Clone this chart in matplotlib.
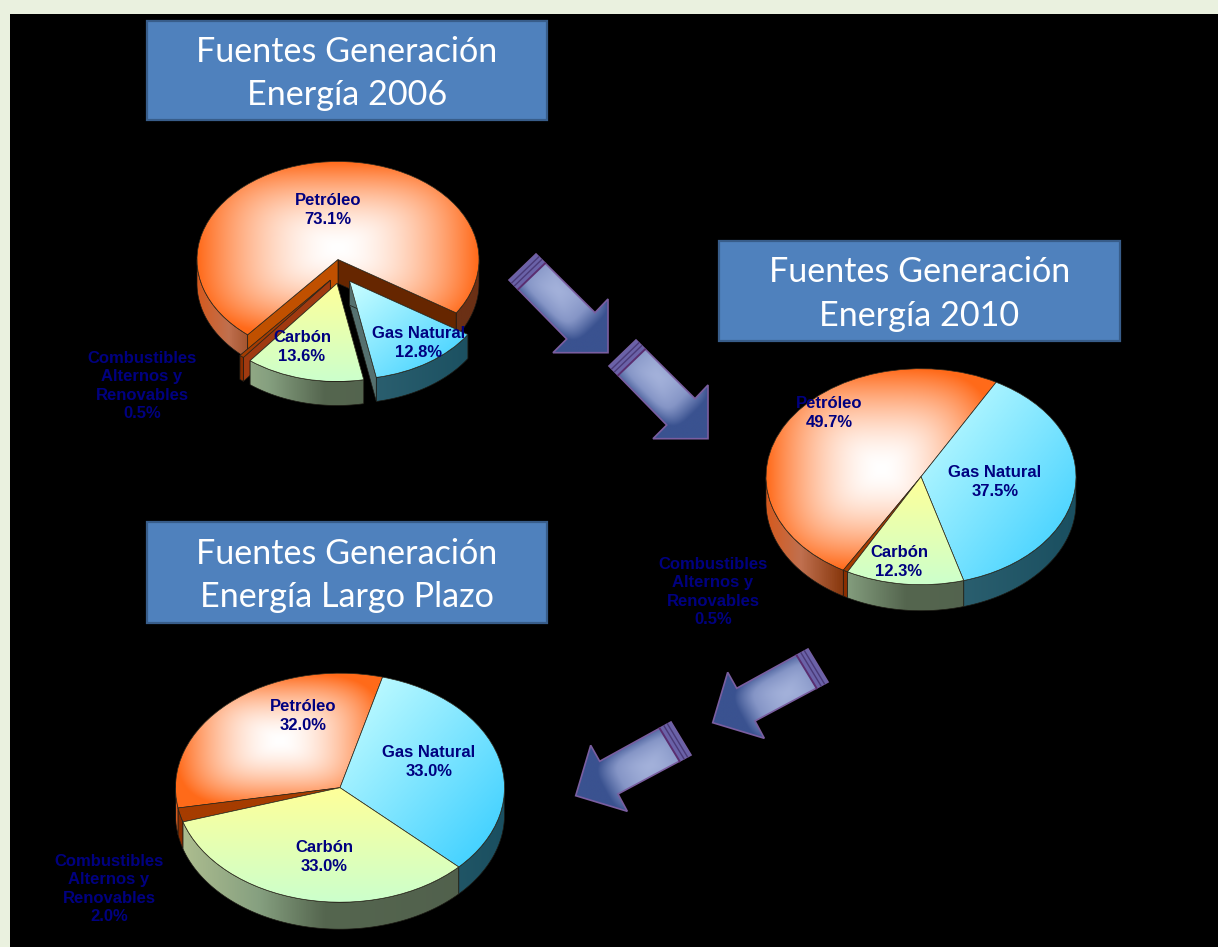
import matplotlib
matplotlib.use('Agg')
import matplotlib.pyplot as plt
from matplotlib.colors import LinearSegmentedColormap, to_rgb
from matplotlib.patches import Polygon, Rectangle
import numpy as np

W, H = 1218, 947

# Values (% of generation)
sources = ['Petróleo', 'Combustibles\nAlternos y\nRenovables', 'Carbón', 'Gas Natural']
shares_2006 = [73.1, 0.5, 13.6, 12.8]
shares_2010 = [49.7, 0.5, 12.3, 37.5]
shares_long = [32.0, 2.0, 33.0, 33.0]

titles = ['Fuentes Generación\nEnergía 2006', 'Fuentes Generación\nEnergía 2010',
          'Fuentes Generación\nEnergía Largo Plazo']

# Pie layout in pixels: centre x, centre y, radius x, radius y, depth, start angle
pie_boxes = [(338, 259.5, 141, 98, 24, -33),
             (921, 476.7, 155, 108, 26, 61),
             (340, 787.7, 164.5, 114.5, 27, 75)]
# Pixel shift of the pulled out slices, only the 2006 pie has them
slice_shifts = [[(0, 0), (-7.7, 20.7), (-1, 24), (11.6, 21.7)], None, None]
label_spots = [[(328, 210), (142, 386), (302, 347), (419, 343)],
               [(829, 413), (713, 592), (899, 562), (995, 482)],
               [(303, 716), (109, 889), (324, 857), (429, 762)]]
title_boxes = [(147, 21, 400, 99), (719, 241, 401, 100), (147, 522, 400, 101)]

ORANGE = '#FF6A1A'
side_stops = {
    0: [(0, '#D65A1E'), (0.11, '#C0704F'), (0.24, '#8A3A10'), (0.75, '#6B3015'), (1, '#6B3015')],
    1: [(0, '#8A2E00'), (1, '#8A2E00')],
    2: [(0, '#B0BF90'), (0.25, '#86A080'), (0.45, '#55664F'), (1, '#505F4C')],
    3: [(0, '#2C6070'), (0.6, '#2C6070'), (1, '#1A4F60')],
}
top_flat = '#A63C00'
walls = {0: ('#662600', '#C05000'), 1: ('#A03A10', '#A03A10'),
         2: ('#55664F', '#55664F'), 3: ('#55706F', '#55706F')}

plt.rcParams['font.family'] = ['Liberation Sans', 'DejaVu Sans']

fig = plt.figure(figsize=(W / 100, H / 100), dpi=100, facecolor='#EAF1DF')
ax = fig.add_axes([0, 0, 1, 1])
ax.set_xlim(0, W)
ax.set_ylim(H, 0)
ax.axis('off')
ax.set_autoscale_on(False)
ax.add_patch(Rectangle((10, 14), W - 10, H - 14, facecolor='black', edgecolor='none', zorder=0))


def mix(c1, c2, t):
    c1, c2 = np.array(to_rgb(c1)), np.array(to_rgb(c2))
    return c1 + (c2 - c1) * t[..., None]


def top_image(kind, n=200):
    u, v = np.meshgrid(np.linspace(-1, 1, n), np.linspace(-1, 1, n))  # v goes down
    if kind == 0:
        t = np.clip((np.abs(u) ** 3.5 + np.abs(v) ** 3.5) ** (1 / 3.5), 0, 1) ** 1.7
        return mix('white', ORANGE, t)
    if kind == 2:
        return mix('#FFFF99', '#CCFFCC', (v + 1) / 2)
    if kind == 3:
        return mix('#CCFFFF', '#33CCFF', np.clip((u + v + 2) / 4, 0, 1))
    return mix(top_flat, top_flat, (v + 1) / 2)


def draw_pie(values, box, shifts, spots):
    cx, cy, rx, ry, depth, start = box
    left, right = cx - 1.5 * rx, cx + 1.5 * rx
    top, bottom = cy - 1.6 * ry, cy + 1.6 * ry
    pax = fig.add_axes([left / W, 1 - bottom / H, (right - left) / W, (bottom - top) / H])
    wedges, _ = pax.pie(values, startangle=start, radius=1, colors=['none'] * len(values),
                        wedgeprops={'edgecolor': '#2E2A1E', 'linewidth': 0.5})
    pax.set_xlim(-1.5, 1.5)
    pax.set_ylim(-1.6, 1.6)
    pax.set_autoscale_on(False)
    pax.patch.set_visible(False)
    d = depth / ry

    order = [0, 1, 3, 2]
    for z, i in enumerate(order):
        wedge = wedges[i]
        ox, oy = (0, 0) if shifts is None else (shifts[i][0] / rx, -shifts[i][1] / ry)
        wedge.set_center((ox, oy))
        base = 10 * (z + 1)
        a1, a2 = wedge.theta1, wedge.theta2

        # cut faces of the pulled out slices, behind the rim
        if shifts is not None:
            for a, col in zip((a1, a2), walls[i]):
                ex, ey = ox + np.cos(np.radians(a)), oy + np.sin(np.radians(a))
                pax.add_patch(Polygon([(ox, oy), (ex, ey), (ex, ey - d), (ox, oy - d)], closed=True,
                                      facecolor=col, edgecolor='#1C1A14', linewidth=0.5,
                                      zorder=base))

        # side of the slice, only the part of the rim that faces front
        cmap = LinearSegmentedColormap.from_list('side', side_stops[i])
        for k in range(-1, 2):
            lo, hi = max(a1, 180 + 360 * k), min(a2, 360 + 360 * k)
            if hi <= lo:
                continue
            ang = np.radians(np.linspace(lo, hi, 80))
            xs, ys = ox + np.cos(ang), oy + np.sin(ang)
            pts = np.r_[np.c_[xs, ys], np.c_[xs, ys - d][::-1]]
            grad = np.linspace(0, 1, 400)[None, :]
            im = pax.imshow(grad, cmap=cmap, vmin=0, vmax=1, aspect='auto',
                            extent=(-1, 1, -1.5, 1.5), zorder=base + 1, interpolation='bilinear')
            edge = Polygon(pts, closed=True, facecolor='none', edgecolor='#1C1A14',
                           linewidth=0.5, zorder=base + 2)
            pax.add_patch(edge)
            im.set_clip_path(edge)

        # top of the slice
        ext = wedge.get_path().get_extents()
        im = pax.imshow(top_image(i), aspect='auto', origin='upper',
                        extent=(ext.x0, ext.x1, ext.y0, ext.y1), zorder=base + 3,
                        interpolation='bilinear')
        im.set_clip_path(wedge)
        wedge.set_zorder(base + 4)

    pax.set_xlim(-1.5, 1.5)
    pax.set_ylim(-1.6, 1.6)

    for name, val, (x, y) in zip(sources, values, spots):
        pax.text(x, y, f'{name}\n{val:.1f}%', transform=ax.transData, ha='center', va='center',
                 color='#000080', fontsize=12, fontweight='bold', linespacing=1.3, zorder=100)


for vals, box, shifts, spots in zip([shares_2006, shares_2010, shares_long], pie_boxes,
                                    slice_shifts, label_spots):
    draw_pie(vals, box, shifts, spots)

# Title boxes
for (x, y, w, h), title in zip(title_boxes, titles):
    ax.add_patch(Rectangle((x, y), w, h, facecolor='#4F81BD', edgecolor='#385D8A',
                           linewidth=1.6, zorder=2))
    ax.text(x + w / 2, y + h / 2 + 3, title, ha='center', va='center', color='white',
            family=['Lato', 'DejaVu Sans'], fontsize=24.6, linespacing=1.43, zorder=3)

# Arrows, shape in pixels
arrow_down = np.array([(536, 254), (509, 280), (566.7, 339), (553, 352.7), (608, 352.7),
                       (608, 299), (595, 312.7)], dtype=float)
arrow_left = np.array([(808, 649), (828, 682), (755, 721), (764.3, 738.3), (712.7, 722.7),
                       (727.7, 672.3), (736.7, 688.3)], dtype=float)
arrows = [(arrow_down, (0, 0)), (arrow_down, (100, 86)), (arrow_left, (0, 0)), (arrow_left, (-137, 73))]

arrow_map = LinearSegmentedColormap.from_list('arrow', ['#A3B1DA', '#8595C6', '#3A5290'])
for shape, off in arrows:
    pts = shape + off
    x0, x1, y0, y1 = pts[:, 0].min(), pts[:, 0].max(), pts[:, 1].min(), pts[:, 1].max()
    xx, yy = np.meshgrid(np.linspace(x0, x1, 200), np.linspace(y0, y1, 200))
    # light band along the shaft, dark to the far side and at both ends
    tail = (pts[0] + pts[1]) / 2
    tip = (pts[3] + pts[5]) / 2
    axis = (tip - tail) / np.linalg.norm(tip - tail)
    length = np.linalg.norm(tip - tail)
    along = ((xx - tail[0]) * axis[0] + (yy - tail[1]) * axis[1]) / length
    across = ((xx - tail[0]) * -axis[1] + (yy - tail[1]) * axis[0]) / (np.linalg.norm(pts[1] - pts[0]) / 2)
    t = np.clip((np.abs((along - 0.5) / 0.62) ** 4 + np.abs((across + 0.5) / 1.7) ** 4) ** (1 / 4), 0, 1) ** 1.5
    im = ax.imshow(t, cmap=arrow_map, vmin=0, vmax=1, extent=(x0, x1, y1, y0), aspect='auto',
                   origin='upper', zorder=4, interpolation='bilinear')
    edge = Polygon(pts, closed=True, facecolor='none', edgecolor='#7A5EA0', linewidth=1.2, zorder=5)
    ax.add_patch(edge)
    im.set_clip_path(edge)
    # stripes near the tail
    ax.add_patch(Polygon([pts[0], pts[1], pts[1] + axis * 13, pts[0] + axis * 13], closed=True,
                         facecolor='#6A62A8', edgecolor='none', zorder=5.5))
    for s, col, lw in ((4, '#4A3A78', 1.0), (8, '#4A3A78', 1.0), (13, '#5A2E70', 1.4)):
        a, b = pts[0] + axis * s, pts[1] + axis * s
        ax.plot([a[0], b[0]], [a[1], b[1]], color=col, linewidth=lw, zorder=6)

ax.set_xlim(0, W)
ax.set_ylim(H, 0)

plt.savefig('out.png', dpi=100, facecolor=fig.get_facecolor())
